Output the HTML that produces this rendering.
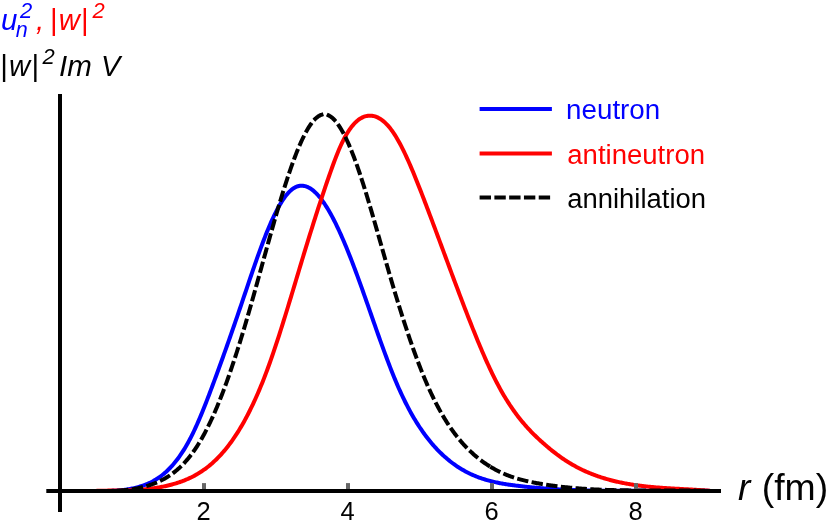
<!DOCTYPE html>
<html><head><meta charset="utf-8"><title>plot</title>
<style>html,body{margin:0;padding:0;background:#fff;}svg{display:block;}text{font-family:"Liberation Sans",sans-serif;}</style>
</head><body>
<svg width="830" height="532" viewBox="0 0 830 532">
<rect width="830" height="532" fill="#fff"/>
<g fill="none" stroke-width="4" stroke-linejoin="round" stroke-linecap="square">
<path d="M60.0 491.00 L61.0 491.00 L62.0 491.00 L63.0 491.00 L64.0 491.00 L65.0 491.00 L66.0 491.00 L67.0 491.00 L68.0 491.00 L69.0 491.00 L70.0 491.00 L71.0 491.00 L72.0 491.00 L73.0 491.00 L74.0 491.00 L75.0 491.00 L76.0 491.00 L77.0 491.00 L78.0 491.00 L79.0 491.00 L80.0 491.00 L81.0 491.00 L82.0 491.00 L83.0 491.00 L84.0 491.00 L85.0 491.00 L86.0 491.00 L87.0 491.00 L88.0 491.00 L89.0 491.00 L90.0 491.00 L91.0 490.99 L92.0 490.99 L93.0 490.99 L94.0 490.98 L95.0 490.98 L96.0 490.98 L97.0 490.98 L98.0 490.98 L99.0 490.98 L100.0 490.98 L101.0 490.98 L102.0 490.98 L103.0 490.98 L104.0 490.98 L105.0 490.98 L106.0 490.97 L107.0 490.96 L108.0 490.95 L109.0 490.93 L110.0 490.91 L111.0 490.88 L112.0 490.85 L113.0 490.81 L114.0 490.76 L115.0 490.70 L116.0 490.64 L117.0 490.57 L118.0 490.50 L119.0 490.42 L120.0 490.33 L121.0 490.23 L122.0 490.13 L123.0 490.02 L124.0 489.90 L125.0 489.77 L126.0 489.63 L127.0 489.48 L128.0 489.32 L129.0 489.15 L130.0 488.97 L131.0 488.78 L132.0 488.58 L133.0 488.37 L134.0 488.14 L135.0 487.91 L136.0 487.66 L137.0 487.40 L138.0 487.13 L139.0 486.84 L140.0 486.54 L141.0 486.23 L142.0 485.90 L143.0 485.56 L144.0 485.21 L145.0 484.83 L146.0 484.44 L147.0 484.03 L148.0 483.61 L149.0 483.16 L150.0 482.69 L151.0 482.21 L152.0 481.70 L153.0 481.17 L154.0 480.61 L155.0 480.03 L156.0 479.43 L157.0 478.80 L158.0 478.15 L159.0 477.47 L160.0 476.76 L161.0 476.02 L162.0 475.26 L163.0 474.46 L164.0 473.64 L165.0 472.78 L166.0 471.89 L167.0 470.97 L168.0 470.01 L169.0 469.02 L170.0 468.00 L171.0 466.94 L172.0 465.84 L173.0 464.71 L174.0 463.54 L175.0 462.33 L176.0 461.08 L177.0 459.79 L178.0 458.45 L179.0 457.08 L180.0 455.67 L181.0 454.21 L182.0 452.71 L183.0 451.16 L184.0 449.57 L185.0 447.93 L186.0 446.25 L187.0 444.51 L188.0 442.73 L189.0 440.90 L190.0 439.02 L191.0 437.09 L192.0 435.11 L193.0 433.08 L194.0 430.99 L195.0 428.86 L196.0 426.67 L197.0 424.45 L198.0 422.17 L199.0 419.86 L200.0 417.51 L201.0 415.12 L202.0 412.69 L203.0 410.24 L204.0 407.75 L205.0 405.23 L206.0 402.69 L207.0 400.12 L208.0 397.53 L209.0 394.92 L210.0 392.29 L211.0 389.64 L212.0 386.98 L213.0 384.31 L214.0 381.63 L215.0 378.93 L216.0 376.23 L217.0 373.51 L218.0 370.78 L219.0 368.04 L220.0 365.29 L221.0 362.53 L222.0 359.76 L223.0 356.98 L224.0 354.19 L225.0 351.38 L226.0 348.57 L227.0 345.75 L228.0 342.92 L229.0 340.08 L230.0 337.23 L231.0 334.37 L232.0 331.50 L233.0 328.63 L234.0 325.74 L235.0 322.85 L236.0 319.95 L237.0 317.04 L238.0 314.12 L239.0 311.20 L240.0 308.27 L241.0 305.33 L242.0 302.38 L243.0 299.43 L244.0 296.47 L245.0 293.50 L246.0 290.54 L247.0 287.57 L248.0 284.61 L249.0 281.65 L250.0 278.70 L251.0 275.76 L252.0 272.84 L253.0 269.92 L254.0 267.03 L255.0 264.15 L256.0 261.29 L257.0 258.45 L258.0 255.64 L259.0 252.86 L260.0 250.11 L261.0 247.39 L262.0 244.70 L263.0 242.05 L264.0 239.44 L265.0 236.86 L266.0 234.34 L267.0 231.85 L268.0 229.42 L269.0 227.03 L270.0 224.70 L271.0 222.42 L272.0 220.19 L273.0 218.02 L274.0 215.91 L275.0 213.85 L276.0 211.86 L277.0 209.93 L278.0 208.06 L279.0 206.26 L280.0 204.52 L281.0 202.85 L282.0 201.25 L283.0 199.72 L284.0 198.26 L285.0 196.88 L286.0 195.57 L287.0 194.34 L288.0 193.19 L289.0 192.11 L290.0 191.12 L291.0 190.21 L292.0 189.38 L293.0 188.64 L294.0 187.99 L295.0 187.42 L296.0 186.93 L297.0 186.52 L298.0 186.20 L299.0 185.95 L300.0 185.79 L301.0 185.70 L302.0 185.69 L303.0 185.76 L304.0 185.90 L305.0 186.12 L306.0 186.41 L307.0 186.77 L308.0 187.20 L309.0 187.71 L310.0 188.28 L311.0 188.92 L312.0 189.63 L313.0 190.40 L314.0 191.24 L315.0 192.15 L316.0 193.11 L317.0 194.14 L318.0 195.24 L319.0 196.39 L320.0 197.60 L321.0 198.87 L322.0 200.19 L323.0 201.57 L324.0 203.01 L325.0 204.50 L326.0 206.05 L327.0 207.65 L328.0 209.29 L329.0 210.99 L330.0 212.74 L331.0 214.54 L332.0 216.38 L333.0 218.27 L334.0 220.21 L335.0 222.18 L336.0 224.21 L337.0 226.27 L338.0 228.38 L339.0 230.52 L340.0 232.71 L341.0 234.93 L342.0 237.20 L343.0 239.49 L344.0 241.83 L345.0 244.19 L346.0 246.59 L347.0 249.02 L348.0 251.49 L349.0 253.98 L350.0 256.51 L351.0 259.06 L352.0 261.64 L353.0 264.24 L354.0 266.87 L355.0 269.53 L356.0 272.20 L357.0 274.90 L358.0 277.62 L359.0 280.37 L360.0 283.13 L361.0 285.90 L362.0 288.69 L363.0 291.50 L364.0 294.32 L365.0 297.15 L366.0 299.99 L367.0 302.84 L368.0 305.69 L369.0 308.55 L370.0 311.41 L371.0 314.27 L372.0 317.13 L373.0 319.99 L374.0 322.85 L375.0 325.70 L376.0 328.55 L377.0 331.39 L378.0 334.22 L379.0 337.03 L380.0 339.84 L381.0 342.63 L382.0 345.41 L383.0 348.17 L384.0 350.91 L385.0 353.63 L386.0 356.32 L387.0 359.00 L388.0 361.65 L389.0 364.27 L390.0 366.87 L391.0 369.43 L392.0 371.97 L393.0 374.47 L394.0 376.93 L395.0 379.37 L396.0 381.76 L397.0 384.11 L398.0 386.43 L399.0 388.70 L400.0 390.93 L401.0 393.13 L402.0 395.28 L403.0 397.39 L404.0 399.47 L405.0 401.50 L406.0 403.50 L407.0 405.46 L408.0 407.38 L409.0 409.27 L410.0 411.12 L411.0 412.94 L412.0 414.72 L413.0 416.46 L414.0 418.17 L415.0 419.85 L416.0 421.50 L417.0 423.11 L418.0 424.69 L419.0 426.24 L420.0 427.76 L421.0 429.24 L422.0 430.70 L423.0 432.13 L424.0 433.53 L425.0 434.90 L426.0 436.24 L427.0 437.55 L428.0 438.84 L429.0 440.10 L430.0 441.33 L431.0 442.54 L432.0 443.72 L433.0 444.88 L434.0 446.01 L435.0 447.12 L436.0 448.20 L437.0 449.26 L438.0 450.30 L439.0 451.32 L440.0 452.32 L441.0 453.29 L442.0 454.25 L443.0 455.18 L444.0 456.10 L445.0 456.99 L446.0 457.87 L447.0 458.73 L448.0 459.57 L449.0 460.38 L450.0 461.19 L451.0 461.97 L452.0 462.73 L453.0 463.48 L454.0 464.21 L455.0 464.92 L456.0 465.62 L457.0 466.30 L458.0 466.96 L459.0 467.61 L460.0 468.24 L461.0 468.85 L462.0 469.45 L463.0 470.03 L464.0 470.60 L465.0 471.16 L466.0 471.70 L467.0 472.22 L468.0 472.73 L469.0 473.23 L470.0 473.72 L471.0 474.19 L472.0 474.64 L473.0 475.09 L474.0 475.52 L475.0 475.94 L476.0 476.35 L477.0 476.75 L478.0 477.13 L479.0 477.51 L480.0 477.87 L481.0 478.22 L482.0 478.56 L483.0 478.89 L484.0 479.21 L485.0 479.52 L486.0 479.82 L487.0 480.12 L488.0 480.40 L489.0 480.67 L490.0 480.94 L491.0 481.19 L492.0 481.44 L493.0 481.68 L494.0 481.92 L495.0 482.14 L496.0 482.36 L497.0 482.57 L498.0 482.78 L499.0 482.98 L500.0 483.17 L501.0 483.36 L502.0 483.54 L503.0 483.71 L504.0 483.88 L505.0 484.05 L506.0 484.21 L507.0 484.37 L508.0 484.52 L509.0 484.67 L510.0 484.81 L511.0 484.95 L512.0 485.09 L513.0 485.22 L514.0 485.35 L515.0 485.48 L516.0 485.61 L517.0 485.74 L518.0 485.86 L519.0 485.98 L520.0 486.10 L521.0 486.22 L522.0 486.33 L523.0 486.44 L524.0 486.56 L525.0 486.67 L526.0 486.77 L527.0 486.88 L528.0 486.98 L529.0 487.09 L530.0 487.19 L531.0 487.29 L532.0 487.38 L533.0 487.48 L534.0 487.57 L535.0 487.66 L536.0 487.75 L537.0 487.84 L538.0 487.93 L539.0 488.01 L540.0 488.10 L541.0 488.18 L542.0 488.26 L543.0 488.34 L544.0 488.41 L545.0 488.49 L546.0 488.56 L547.0 488.64 L548.0 488.71 L549.0 488.78 L550.0 488.84 L551.0 488.91 L552.0 488.97 L553.0 489.04 L554.0 489.10 L555.0 489.16 L556.0 489.22 L557.0 489.28 L558.0 489.33 L559.0 489.39 L560.0 489.44 L561.0 489.50 L562.0 489.55 L563.0 489.60 L564.0 489.64 L565.0 489.69 L566.0 489.74 L567.0 489.78 L568.0 489.83 L569.0 489.87 L570.0 489.91 L571.0 489.95 L572.0 489.99 L573.0 490.03 L574.0 490.06 L575.0 490.10 L576.0 490.13 L577.0 490.17 L578.0 490.20 L579.0 490.23 L580.0 490.26 L581.0 490.29 L582.0 490.32 L583.0 490.34 L584.0 490.37 L585.0 490.39 L586.0 490.42 L587.0 490.44 L588.0 490.46 L589.0 490.48 L590.0 490.50 L591.0 490.52 L592.0 490.54 L593.0 490.56 L594.0 490.58 L595.0 490.59 L596.0 490.61 L597.0 490.62 L598.0 490.64 L599.0 490.65 L600.0 490.66 L601.0 490.67 L602.0 490.69 L603.0 490.70 L604.0 490.71 L605.0 490.71 L606.0 490.72 L607.0 490.73 L608.0 490.74 L609.0 490.74 L610.0 490.75 L611.0 490.75 L612.0 490.76 L613.0 490.76 L614.0 490.77 L615.0 490.77 L616.0 490.77 L617.0 490.77 L618.0 490.78 L619.0 490.78 L620.0 490.78 L621.0 490.78 L622.0 490.78 L623.0 490.78 L624.0 490.78 L625.0 490.78 L626.0 490.77 L627.0 490.77 L628.0 490.77 L629.0 490.77 L630.0 490.76 L631.0 490.76 L632.0 490.76 L633.0 490.75 L634.0 490.75 L635.0 490.75 L636.0 490.74 L637.0 490.74 L638.0 490.73 L639.0 490.73 L640.0 490.72 L641.0 490.72 L642.0 490.71 L643.0 490.71 L644.0 490.70 L645.0 490.70 L646.0 490.69 L647.0 490.69 L648.0 490.68 L649.0 490.67 L650.0 490.67 L651.0 490.66 L652.0 490.66 L653.0 490.65 L654.0 490.65 L655.0 490.64 L656.0 490.64 L657.0 490.63 L658.0 490.63 L659.0 490.62 L660.0 490.62 L661.0 490.61 L662.0 490.61 L663.0 490.61 L664.0 490.60 L665.0 490.60 L666.0 490.60 L667.0 490.59 L668.0 490.59 L669.0 490.59 L670.0 490.58 L671.0 490.58 L672.0 490.58 L673.0 490.58 L674.0 490.58 L675.0 490.58 L676.0 490.58 L677.0 490.58 L678.0 490.58 L679.0 490.58 L680.0 490.58 L681.0 490.59 L682.0 490.59 L683.0 490.59 L684.0 490.60 L685.0 490.60 L686.0 490.61 L687.0 490.61 L688.0 490.62 L689.0 490.62 L690.0 490.63 L691.0 490.64 L692.0 490.65 L693.0 490.66 L694.0 490.67 L695.0 490.68 L696.0 490.69 L697.0 490.70 L698.0 490.71 L699.0 490.73 L700.0 490.74 L701.0 490.76 L702.0 490.77 L703.0 490.79 L704.0 490.81 L705.0 490.83 L706.0 490.84 L707.0 490.86 L708.0 490.89" stroke="#0000ff"/>
<path d="M60.0 491.00 L61.0 491.00 L62.0 491.00 L63.0 491.00 L64.0 491.00 L65.0 491.00 L66.0 491.00 L67.0 491.00 L68.0 491.00 L69.0 491.00 L70.0 491.00 L71.0 491.00 L72.0 491.00 L73.0 491.00 L74.0 491.00 L75.0 491.00 L76.0 491.00 L77.0 491.00 L78.0 491.00 L79.0 491.00 L80.0 491.00 L81.0 491.00 L82.0 491.00 L83.0 491.00 L84.0 491.00 L85.0 491.00 L86.0 491.00 L87.0 491.00 L88.0 491.00 L89.0 491.00 L90.0 490.99 L91.0 490.98 L92.0 490.97 L93.0 490.95 L94.0 490.93 L95.0 490.91 L96.0 490.89 L97.0 490.87 L98.0 490.84 L99.0 490.82 L100.0 490.79 L101.0 490.76 L102.0 490.74 L103.0 490.71 L104.0 490.69 L105.0 490.67 L106.0 490.65 L107.0 490.63 L108.0 490.61 L109.0 490.59 L110.0 490.57 L111.0 490.56 L112.0 490.54 L113.0 490.53 L114.0 490.52 L115.0 490.51 L116.0 490.50 L117.0 490.49 L118.0 490.48 L119.0 490.48 L120.0 490.47 L121.0 490.46 L122.0 490.45 L123.0 490.43 L124.0 490.41 L125.0 490.39 L126.0 490.37 L127.0 490.35 L128.0 490.32 L129.0 490.29 L130.0 490.25 L131.0 490.21 L132.0 490.17 L133.0 490.13 L134.0 490.08 L135.0 490.03 L136.0 489.97 L137.0 489.92 L138.0 489.85 L139.0 489.78 L140.0 489.71 L141.0 489.64 L142.0 489.56 L143.0 489.47 L144.0 489.38 L145.0 489.29 L146.0 489.19 L147.0 489.08 L148.0 488.97 L149.0 488.86 L150.0 488.73 L151.0 488.61 L152.0 488.48 L153.0 488.34 L154.0 488.19 L155.0 488.04 L156.0 487.89 L157.0 487.73 L158.0 487.56 L159.0 487.38 L160.0 487.20 L161.0 487.01 L162.0 486.82 L163.0 486.61 L164.0 486.40 L165.0 486.19 L166.0 485.96 L167.0 485.73 L168.0 485.49 L169.0 485.25 L170.0 484.99 L171.0 484.73 L172.0 484.46 L173.0 484.18 L174.0 483.89 L175.0 483.60 L176.0 483.30 L177.0 482.98 L178.0 482.66 L179.0 482.33 L180.0 481.99 L181.0 481.63 L182.0 481.27 L183.0 480.89 L184.0 480.51 L185.0 480.11 L186.0 479.70 L187.0 479.27 L188.0 478.84 L189.0 478.38 L190.0 477.92 L191.0 477.44 L192.0 476.95 L193.0 476.44 L194.0 475.91 L195.0 475.37 L196.0 474.82 L197.0 474.24 L198.0 473.65 L199.0 473.04 L200.0 472.42 L201.0 471.78 L202.0 471.11 L203.0 470.43 L204.0 469.73 L205.0 469.02 L206.0 468.28 L207.0 467.52 L208.0 466.74 L209.0 465.93 L210.0 465.11 L211.0 464.27 L212.0 463.40 L213.0 462.51 L214.0 461.60 L215.0 460.66 L216.0 459.70 L217.0 458.72 L218.0 457.71 L219.0 456.68 L220.0 455.62 L221.0 454.53 L222.0 453.42 L223.0 452.29 L224.0 451.12 L225.0 449.93 L226.0 448.72 L227.0 447.47 L228.0 446.20 L229.0 444.89 L230.0 443.56 L231.0 442.20 L232.0 440.81 L233.0 439.39 L234.0 437.94 L235.0 436.46 L236.0 434.94 L237.0 433.40 L238.0 431.82 L239.0 430.21 L240.0 428.57 L241.0 426.90 L242.0 425.19 L243.0 423.45 L244.0 421.67 L245.0 419.86 L246.0 418.01 L247.0 416.13 L248.0 414.21 L249.0 412.26 L250.0 410.27 L251.0 408.24 L252.0 406.18 L253.0 404.07 L254.0 401.93 L255.0 399.76 L256.0 397.54 L257.0 395.28 L258.0 392.99 L259.0 390.65 L260.0 388.28 L261.0 385.86 L262.0 383.40 L263.0 380.90 L264.0 378.36 L265.0 375.78 L266.0 373.15 L267.0 370.48 L268.0 367.77 L269.0 365.02 L270.0 362.23 L271.0 359.39 L272.0 356.52 L273.0 353.62 L274.0 350.68 L275.0 347.71 L276.0 344.70 L277.0 341.67 L278.0 338.60 L279.0 335.51 L280.0 332.39 L281.0 329.25 L282.0 326.09 L283.0 322.91 L284.0 319.70 L285.0 316.48 L286.0 313.24 L287.0 309.98 L288.0 306.71 L289.0 303.43 L290.0 300.14 L291.0 296.84 L292.0 293.52 L293.0 290.21 L294.0 286.88 L295.0 283.56 L296.0 280.23 L297.0 276.90 L298.0 273.57 L299.0 270.24 L300.0 266.92 L301.0 263.60 L302.0 260.29 L303.0 256.99 L304.0 253.69 L305.0 250.41 L306.0 247.14 L307.0 243.88 L308.0 240.63 L309.0 237.40 L310.0 234.18 L311.0 230.97 L312.0 227.78 L313.0 224.61 L314.0 221.45 L315.0 218.30 L316.0 215.17 L317.0 212.06 L318.0 208.97 L319.0 205.90 L320.0 202.84 L321.0 199.80 L322.0 196.78 L323.0 193.78 L324.0 190.80 L325.0 187.84 L326.0 184.91 L327.0 181.99 L328.0 179.10 L329.0 176.23 L330.0 173.38 L331.0 170.56 L332.0 167.76 L333.0 165.00 L334.0 162.29 L335.0 159.62 L336.0 157.01 L337.0 154.46 L338.0 151.98 L339.0 149.58 L340.0 147.27 L341.0 145.04 L342.0 142.90 L343.0 140.86 L344.0 138.90 L345.0 137.03 L346.0 135.25 L347.0 133.55 L348.0 131.93 L349.0 130.40 L350.0 128.96 L351.0 127.59 L352.0 126.30 L353.0 125.10 L354.0 123.97 L355.0 122.92 L356.0 121.94 L357.0 121.04 L358.0 120.21 L359.0 119.46 L360.0 118.77 L361.0 118.16 L362.0 117.62 L363.0 117.14 L364.0 116.73 L365.0 116.39 L366.0 116.12 L367.0 115.91 L368.0 115.76 L369.0 115.67 L370.0 115.64 L371.0 115.68 L372.0 115.77 L373.0 115.93 L374.0 116.14 L375.0 116.42 L376.0 116.76 L377.0 117.16 L378.0 117.62 L379.0 118.15 L380.0 118.73 L381.0 119.38 L382.0 120.09 L383.0 120.87 L384.0 121.71 L385.0 122.61 L386.0 123.57 L387.0 124.60 L388.0 125.70 L389.0 126.85 L390.0 128.07 L391.0 129.36 L392.0 130.71 L393.0 132.13 L394.0 133.61 L395.0 135.16 L396.0 136.77 L397.0 138.44 L398.0 140.16 L399.0 141.95 L400.0 143.79 L401.0 145.68 L402.0 147.62 L403.0 149.61 L404.0 151.65 L405.0 153.74 L406.0 155.87 L407.0 158.04 L408.0 160.25 L409.0 162.50 L410.0 164.79 L411.0 167.11 L412.0 169.46 L413.0 171.84 L414.0 174.26 L415.0 176.70 L416.0 179.16 L417.0 181.65 L418.0 184.16 L419.0 186.69 L420.0 189.24 L421.0 191.81 L422.0 194.39 L423.0 196.98 L424.0 199.58 L425.0 202.19 L426.0 204.81 L427.0 207.44 L428.0 210.07 L429.0 212.71 L430.0 215.36 L431.0 218.01 L432.0 220.67 L433.0 223.33 L434.0 226.00 L435.0 228.67 L436.0 231.35 L437.0 234.03 L438.0 236.71 L439.0 239.40 L440.0 242.08 L441.0 244.77 L442.0 247.46 L443.0 250.15 L444.0 252.84 L445.0 255.53 L446.0 258.23 L447.0 260.92 L448.0 263.60 L449.0 266.29 L450.0 268.98 L451.0 271.66 L452.0 274.34 L453.0 277.01 L454.0 279.68 L455.0 282.35 L456.0 285.01 L457.0 287.67 L458.0 290.32 L459.0 292.97 L460.0 295.61 L461.0 298.24 L462.0 300.87 L463.0 303.49 L464.0 306.10 L465.0 308.70 L466.0 311.29 L467.0 313.87 L468.0 316.45 L469.0 319.01 L470.0 321.56 L471.0 324.09 L472.0 326.62 L473.0 329.13 L474.0 331.62 L475.0 334.10 L476.0 336.56 L477.0 339.01 L478.0 341.43 L479.0 343.84 L480.0 346.23 L481.0 348.59 L482.0 350.94 L483.0 353.26 L484.0 355.56 L485.0 357.84 L486.0 360.09 L487.0 362.32 L488.0 364.52 L489.0 366.70 L490.0 368.85 L491.0 370.97 L492.0 373.06 L493.0 375.12 L494.0 377.15 L495.0 379.14 L496.0 381.11 L497.0 383.04 L498.0 384.94 L499.0 386.81 L500.0 388.64 L501.0 390.44 L502.0 392.21 L503.0 393.94 L504.0 395.64 L505.0 397.31 L506.0 398.95 L507.0 400.56 L508.0 402.14 L509.0 403.69 L510.0 405.22 L511.0 406.71 L512.0 408.18 L513.0 409.62 L514.0 411.03 L515.0 412.42 L516.0 413.78 L517.0 415.12 L518.0 416.44 L519.0 417.72 L520.0 418.99 L521.0 420.23 L522.0 421.45 L523.0 422.65 L524.0 423.83 L525.0 424.99 L526.0 426.12 L527.0 427.24 L528.0 428.34 L529.0 429.41 L530.0 430.48 L531.0 431.52 L532.0 432.55 L533.0 433.56 L534.0 434.56 L535.0 435.54 L536.0 436.51 L537.0 437.47 L538.0 438.41 L539.0 439.35 L540.0 440.27 L541.0 441.18 L542.0 442.08 L543.0 442.98 L544.0 443.86 L545.0 444.74 L546.0 445.60 L547.0 446.46 L548.0 447.31 L549.0 448.14 L550.0 448.97 L551.0 449.79 L552.0 450.59 L553.0 451.39 L554.0 452.17 L555.0 452.95 L556.0 453.71 L557.0 454.47 L558.0 455.21 L559.0 455.94 L560.0 456.66 L561.0 457.37 L562.0 458.07 L563.0 458.76 L564.0 459.43 L565.0 460.10 L566.0 460.75 L567.0 461.39 L568.0 462.02 L569.0 462.64 L570.0 463.25 L571.0 463.84 L572.0 464.43 L573.0 465.00 L574.0 465.57 L575.0 466.12 L576.0 466.67 L577.0 467.20 L578.0 467.72 L579.0 468.24 L580.0 468.74 L581.0 469.24 L582.0 469.72 L583.0 470.20 L584.0 470.66 L585.0 471.12 L586.0 471.57 L587.0 472.01 L588.0 472.44 L589.0 472.86 L590.0 473.27 L591.0 473.68 L592.0 474.07 L593.0 474.46 L594.0 474.84 L595.0 475.21 L596.0 475.58 L597.0 475.94 L598.0 476.29 L599.0 476.63 L600.0 476.97 L601.0 477.29 L602.0 477.62 L603.0 477.93 L604.0 478.24 L605.0 478.54 L606.0 478.83 L607.0 479.12 L608.0 479.40 L609.0 479.68 L610.0 479.95 L611.0 480.22 L612.0 480.47 L613.0 480.73 L614.0 480.98 L615.0 481.22 L616.0 481.45 L617.0 481.68 L618.0 481.91 L619.0 482.13 L620.0 482.35 L621.0 482.56 L622.0 482.76 L623.0 482.96 L624.0 483.16 L625.0 483.35 L626.0 483.54 L627.0 483.72 L628.0 483.90 L629.0 484.07 L630.0 484.24 L631.0 484.40 L632.0 484.56 L633.0 484.72 L634.0 484.87 L635.0 485.02 L636.0 485.16 L637.0 485.30 L638.0 485.44 L639.0 485.57 L640.0 485.70 L641.0 485.83 L642.0 485.95 L643.0 486.07 L644.0 486.19 L645.0 486.30 L646.0 486.41 L647.0 486.52 L648.0 486.63 L649.0 486.73 L650.0 486.83 L651.0 486.92 L652.0 487.02 L653.0 487.11 L654.0 487.20 L655.0 487.28 L656.0 487.37 L657.0 487.45 L658.0 487.53 L659.0 487.61 L660.0 487.68 L661.0 487.76 L662.0 487.83 L663.0 487.90 L664.0 487.97 L665.0 488.04 L666.0 488.10 L667.0 488.17 L668.0 488.23 L669.0 488.30 L670.0 488.36 L671.0 488.42 L672.0 488.48 L673.0 488.53 L674.0 488.59 L675.0 488.65 L676.0 488.71 L677.0 488.76 L678.0 488.82 L679.0 488.87 L680.0 488.92 L681.0 488.98 L682.0 489.03 L683.0 489.09 L684.0 489.14 L685.0 489.19 L686.0 489.25 L687.0 489.30 L688.0 489.36 L689.0 489.41 L690.0 489.47 L691.0 489.52 L692.0 489.58 L693.0 489.64 L694.0 489.70 L695.0 489.76 L696.0 489.82 L697.0 489.88 L698.0 489.94 L699.0 490.00 L700.0 490.07 L701.0 490.13 L702.0 490.20 L703.0 490.27 L704.0 490.34 L705.0 490.41 L706.0 490.49 L707.0 490.56 L708.0 490.64" stroke="#ff0000"/>
<path d="M60.0 491.00 L61.0 491.00 L62.0 491.00 L63.0 491.00 L64.0 491.00 L65.0 491.00 L66.0 491.00 L67.0 491.00 L68.0 491.00 L69.0 491.00 L70.0 491.00 L71.0 491.00 L72.0 491.00 L73.0 491.00 L74.0 491.00 L75.0 491.00 L76.0 491.00 L77.0 491.00 L78.0 491.00 L79.0 491.00 L80.0 491.00 L81.0 491.00 L82.0 491.00 L83.0 491.00 L84.0 491.00 L85.0 491.00 L86.0 491.00 L87.0 491.00 L88.0 491.00 L89.0 491.00 L90.0 491.00 L91.0 490.99 L92.0 490.99 L93.0 490.99 L94.0 490.98 L95.0 490.98 L96.0 490.98 L97.0 490.98 L98.0 490.98 L99.0 490.98 L100.0 490.98 L101.0 490.98 L102.0 490.98 L103.0 490.98 L104.0 490.98 L105.0 490.98 L106.0 490.97 L107.0 490.97 L108.0 490.96 L109.0 490.94 L110.0 490.93 L111.0 490.91 L112.0 490.88 L113.0 490.85 L114.0 490.82 L115.0 490.78 L116.0 490.73 L117.0 490.68 L118.0 490.63 L119.0 490.57 L120.0 490.51 L121.0 490.44 L122.0 490.36 L123.0 490.28 L124.0 490.19 L125.0 490.10 L126.0 490.00 L127.0 489.89 L128.0 489.77 L129.0 489.65 L130.0 489.52 L131.0 489.38 L132.0 489.23 L133.0 489.08 L134.0 488.92 L135.0 488.74 L136.0 488.56 L137.0 488.37 L138.0 488.17 L139.0 487.97 L140.0 487.75 L141.0 487.52 L142.0 487.28 L143.0 487.03 L144.0 486.78 L145.0 486.51 L146.0 486.23 L147.0 485.93 L148.0 485.63 L149.0 485.32 L150.0 484.99 L151.0 484.66 L152.0 484.31 L153.0 483.94 L154.0 483.57 L155.0 483.18 L156.0 482.78 L157.0 482.36 L158.0 481.93 L159.0 481.48 L160.0 481.02 L161.0 480.54 L162.0 480.04 L163.0 479.52 L164.0 478.98 L165.0 478.43 L166.0 477.85 L167.0 477.25 L168.0 476.63 L169.0 475.99 L170.0 475.32 L171.0 474.63 L172.0 473.92 L173.0 473.18 L174.0 472.42 L175.0 471.63 L176.0 470.81 L177.0 469.97 L178.0 469.10 L179.0 468.20 L180.0 467.26 L181.0 466.30 L182.0 465.31 L183.0 464.29 L184.0 463.24 L185.0 462.15 L186.0 461.03 L187.0 459.87 L188.0 458.69 L189.0 457.46 L190.0 456.20 L191.0 454.90 L192.0 453.57 L193.0 452.20 L194.0 450.79 L195.0 449.34 L196.0 447.85 L197.0 446.32 L198.0 444.75 L199.0 443.14 L200.0 441.49 L201.0 439.79 L202.0 438.05 L203.0 436.27 L204.0 434.45 L205.0 432.58 L206.0 430.68 L207.0 428.73 L208.0 426.74 L209.0 424.70 L210.0 422.63 L211.0 420.51 L212.0 418.35 L213.0 416.15 L214.0 413.91 L215.0 411.63 L216.0 409.30 L217.0 406.94 L218.0 404.53 L219.0 402.08 L220.0 399.59 L221.0 397.06 L222.0 394.49 L223.0 391.89 L224.0 389.24 L225.0 386.55 L226.0 383.83 L227.0 381.07 L228.0 378.27 L229.0 375.43 L230.0 372.56 L231.0 369.65 L232.0 366.71 L233.0 363.73 L234.0 360.72 L235.0 357.68 L236.0 354.60 L237.0 351.49 L238.0 348.34 L239.0 345.17 L240.0 341.96 L241.0 338.72 L242.0 335.45 L243.0 332.15 L244.0 328.82 L245.0 325.46 L246.0 322.07 L247.0 318.65 L248.0 315.21 L249.0 311.75 L250.0 308.26 L251.0 304.75 L252.0 301.23 L253.0 297.69 L254.0 294.13 L255.0 290.56 L256.0 286.97 L257.0 283.38 L258.0 279.78 L259.0 276.17 L260.0 272.56 L261.0 268.94 L262.0 265.32 L263.0 261.70 L264.0 258.09 L265.0 254.48 L266.0 250.87 L267.0 247.27 L268.0 243.68 L269.0 240.10 L270.0 236.53 L271.0 232.98 L272.0 229.44 L273.0 225.92 L274.0 222.41 L275.0 218.93 L276.0 215.48 L277.0 212.04 L278.0 208.64 L279.0 205.26 L280.0 201.91 L281.0 198.60 L282.0 195.32 L283.0 192.08 L284.0 188.88 L285.0 185.71 L286.0 182.59 L287.0 179.51 L288.0 176.48 L289.0 173.50 L290.0 170.57 L291.0 167.69 L292.0 164.86 L293.0 162.09 L294.0 159.37 L295.0 156.72 L296.0 154.13 L297.0 151.60 L298.0 149.13 L299.0 146.74 L300.0 144.41 L301.0 142.15 L302.0 139.97 L303.0 137.86 L304.0 135.83 L305.0 133.88 L306.0 132.01 L307.0 130.22 L308.0 128.52 L309.0 126.90 L310.0 125.37 L311.0 123.93 L312.0 122.58 L313.0 121.33 L314.0 120.18 L315.0 119.12 L316.0 118.16 L317.0 117.30 L318.0 116.55 L319.0 115.91 L320.0 115.37 L321.0 114.94 L322.0 114.62 L323.0 114.42 L324.0 114.33 L325.0 114.35 L326.0 114.49 L327.0 114.74 L328.0 115.10 L329.0 115.57 L330.0 116.14 L331.0 116.82 L332.0 117.60 L333.0 118.48 L334.0 119.47 L335.0 120.54 L336.0 121.72 L337.0 122.99 L338.0 124.35 L339.0 125.80 L340.0 127.34 L341.0 128.97 L342.0 130.69 L343.0 132.48 L344.0 134.36 L345.0 136.32 L346.0 138.36 L347.0 140.48 L348.0 142.67 L349.0 144.93 L350.0 147.27 L351.0 149.68 L352.0 152.15 L353.0 154.69 L354.0 157.30 L355.0 159.97 L356.0 162.70 L357.0 165.49 L358.0 168.34 L359.0 171.24 L360.0 174.20 L361.0 177.21 L362.0 180.28 L363.0 183.39 L364.0 186.54 L365.0 189.74 L366.0 192.97 L367.0 196.25 L368.0 199.55 L369.0 202.89 L370.0 206.26 L371.0 209.65 L372.0 213.07 L373.0 216.51 L374.0 219.96 L375.0 223.43 L376.0 226.92 L377.0 230.41 L378.0 233.92 L379.0 237.42 L380.0 240.94 L381.0 244.45 L382.0 247.97 L383.0 251.48 L384.0 254.98 L385.0 258.48 L386.0 261.98 L387.0 265.46 L388.0 268.92 L389.0 272.38 L390.0 275.81 L391.0 279.23 L392.0 282.62 L393.0 286.00 L394.0 289.35 L395.0 292.68 L396.0 295.99 L397.0 299.27 L398.0 302.53 L399.0 305.77 L400.0 308.98 L401.0 312.16 L402.0 315.32 L403.0 318.45 L404.0 321.56 L405.0 324.63 L406.0 327.68 L407.0 330.70 L408.0 333.69 L409.0 336.65 L410.0 339.58 L411.0 342.48 L412.0 345.34 L413.0 348.18 L414.0 350.98 L415.0 353.74 L416.0 356.48 L417.0 359.18 L418.0 361.84 L419.0 364.47 L420.0 367.06 L421.0 369.61 L422.0 372.13 L423.0 374.61 L424.0 377.05 L425.0 379.45 L426.0 381.81 L427.0 384.14 L428.0 386.42 L429.0 388.66 L430.0 390.86 L431.0 393.01 L432.0 395.13 L433.0 397.21 L434.0 399.25 L435.0 401.25 L436.0 403.22 L437.0 405.15 L438.0 407.04 L439.0 408.89 L440.0 410.71 L441.0 412.49 L442.0 414.23 L443.0 415.95 L444.0 417.62 L445.0 419.27 L446.0 420.88 L447.0 422.46 L448.0 424.01 L449.0 425.52 L450.0 427.01 L451.0 428.46 L452.0 429.89 L453.0 431.28 L454.0 432.65 L455.0 433.99 L456.0 435.30 L457.0 436.58 L458.0 437.83 L459.0 439.06 L460.0 440.27 L461.0 441.44 L462.0 442.59 L463.0 443.72 L464.0 444.82 L465.0 445.90 L466.0 446.96 L467.0 448.00 L468.0 449.01 L469.0 450.00 L470.0 450.97 L471.0 451.92 L472.0 452.84 L473.0 453.75 L474.0 454.64 L475.0 455.52 L476.0 456.37 L477.0 457.20 L478.0 458.02 L479.0 458.82 L480.0 459.60 L481.0 460.37 L482.0 461.12 L483.0 461.85 L484.0 462.56 L485.0 463.26 L486.0 463.94 L487.0 464.61 L488.0 465.26 L489.0 465.90 L490.0 466.52 L491.0 467.13 L492.0 467.72" stroke="#000" stroke-dasharray="7.39 7.39"/>
<path d="M492.0 467.72 L493.0 468.30 L494.0 468.86 L495.0 469.41 L496.0 469.95 L497.0 470.47 L498.0 470.98 L499.0 471.48 L500.0 471.96 L501.0 472.43 L502.0 472.89 L503.0 473.34 L504.0 473.78 L505.0 474.20 L506.0 474.62 L507.0 475.02 L508.0 475.41 L509.0 475.79 L510.0 476.16 L511.0 476.52 L512.0 476.88 L513.0 477.22 L514.0 477.55 L515.0 477.87 L516.0 478.19 L517.0 478.49 L518.0 478.79 L519.0 479.08 L520.0 479.36 L521.0 479.63 L522.0 479.90 L523.0 480.16 L524.0 480.41 L525.0 480.66 L526.0 480.90 L527.0 481.13 L528.0 481.36 L529.0 481.58 L530.0 481.79 L531.0 482.00 L532.0 482.21 L533.0 482.41 L534.0 482.60 L535.0 482.79 L536.0 482.98 L537.0 483.16 L538.0 483.34 L539.0 483.52 L540.0 483.69 L541.0 483.86 L542.0 484.03 L543.0 484.19 L544.0 484.36 L545.0 484.51 L546.0 484.67 L547.0 484.82 L548.0 484.97 L549.0 485.12 L550.0 485.27 L551.0 485.41 L552.0 485.55 L553.0 485.69 L554.0 485.82 L555.0 485.96 L556.0 486.08 L557.0 486.21 L558.0 486.34 L559.0 486.46 L560.0 486.58 L561.0 486.70 L562.0 486.81 L563.0 486.92 L564.0 487.04 L565.0 487.14 L566.0 487.25 L567.0 487.35 L568.0 487.45 L569.0 487.55 L570.0 487.65 L571.0 487.75 L572.0 487.84 L573.0 487.93 L574.0 488.02 L575.0 488.10 L576.0 488.19 L577.0 488.27 L578.0 488.35 L579.0 488.43 L580.0 488.51 L581.0 488.58 L582.0 488.65 L583.0 488.72 L584.0 488.79 L585.0 488.86 L586.0 488.92 L587.0 488.99 L588.0 489.05 L589.0 489.11 L590.0 489.17 L591.0 489.23 L592.0 489.28 L593.0 489.33 L594.0 489.39 L595.0 489.44 L596.0 489.48 L597.0 489.53 L598.0 489.58 L599.0 489.62 L600.0 489.66 L601.0 489.71 L602.0 489.75 L603.0 489.78 L604.0 489.82 L605.0 489.86 L606.0 489.89 L607.0 489.92 L608.0 489.96 L609.0 489.99 L610.0 490.02 L611.0 490.04 L612.0 490.07 L613.0 490.10 L614.0 490.12 L615.0 490.15 L616.0 490.17 L617.0 490.19 L618.0 490.21 L619.0 490.23 L620.0 490.25 L621.0 490.27 L622.0 490.28 L623.0 490.30 L624.0 490.31 L625.0 490.33 L626.0 490.34 L627.0 490.35 L628.0 490.36 L629.0 490.38 L630.0 490.39 L631.0 490.39 L632.0 490.40 L633.0 490.41 L634.0 490.42 L635.0 490.43 L636.0 490.43 L637.0 490.44 L638.0 490.44 L639.0 490.45 L640.0 490.45 L641.0 490.45 L642.0 490.46 L643.0 490.46 L644.0 490.46 L645.0 490.46 L646.0 490.47 L647.0 490.47 L648.0 490.47 L649.0 490.47 L650.0 490.47 L651.0 490.47 L652.0 490.47 L653.0 490.47 L654.0 490.47 L655.0 490.47 L656.0 490.47 L657.0 490.47 L658.0 490.47 L659.0 490.47 L660.0 490.46 L661.0 490.46 L662.0 490.46 L663.0 490.46 L664.0 490.46 L665.0 490.46 L666.0 490.46 L667.0 490.46 L668.0 490.46 L669.0 490.46 L670.0 490.46 L671.0 490.46 L672.0 490.46 L673.0 490.46 L674.0 490.46 L675.0 490.47 L676.0 490.47 L677.0 490.47 L678.0 490.47 L679.0 490.48 L680.0 490.48 L681.0 490.49 L682.0 490.49 L683.0 490.50 L684.0 490.50 L685.0 490.51 L686.0 490.52 L687.0 490.52 L688.0 490.53 L689.0 490.54 L690.0 490.55 L691.0 490.56 L692.0 490.57 L693.0 490.59 L694.0 490.60 L695.0 490.61 L696.0 490.63 L697.0 490.64 L698.0 490.66 L699.0 490.68 L700.0 490.70 L701.0 490.72 L702.0 490.74 L703.0 490.76 L704.0 490.78 L705.0 490.80 L706.0 490.83 L707.0 490.85 L708.0 490.88" stroke="#000" stroke-dasharray="7.39 7.39"/>
</g>
<rect x="202" y="483.1" width="4" height="6" fill="#666"/><rect x="346" y="483.1" width="4" height="6" fill="#666"/><rect x="490" y="483.1" width="4" height="6" fill="#666"/><rect x="634" y="483.1" width="4" height="6" fill="#666"/>
<rect x="46.3" y="489" width="674.7" height="4" fill="#000"/>
<rect x="58" y="94" width="4" height="418" fill="#000"/>
<g style="will-change:opacity;isolation:isolate" opacity="0.996">
<text x="203.7" y="520.4" font-size="25.5" fill="#000" text-anchor="middle">2</text><text x="347.7" y="520.4" font-size="25.5" fill="#000" text-anchor="middle">4</text><text x="491.7" y="520.4" font-size="25.5" fill="#000" text-anchor="middle">6</text><text x="635.7" y="520.4" font-size="25.5" fill="#000" text-anchor="middle">8</text>
<text x="1.1" y="30.3" font-size="29.5" fill="#0000ff" font-style="italic" text-anchor="start">u</text><text x="20.1" y="18.2" font-size="22" fill="#0000ff" font-style="italic" text-anchor="start">2</text><text x="15.8" y="36.6" font-size="21.5" fill="#0000ff" font-style="italic" text-anchor="start">n</text><text x="36.0" y="30.3" font-size="29.5" fill="#ff0000" font-style="italic" text-anchor="start">,</text><text x="50.0" y="30.2" font-size="29.5" fill="#ff0000" text-anchor="start">|</text><text x="58.8" y="30.3" font-size="29.2" fill="#ff0000" font-style="italic" text-anchor="start">w</text><text x="81.0" y="30.2" font-size="29.5" fill="#ff0000" text-anchor="start">|</text><text x="92.5" y="18.2" font-size="22" fill="#ff0000" font-style="italic" text-anchor="start">2</text><text x="0.3" y="76.2" font-size="29.5" fill="#000" text-anchor="start">|</text><text x="9.0" y="76.2" font-size="29.2" fill="#000" font-style="italic" text-anchor="start">w</text><text x="31.5" y="76.2" font-size="29.5" fill="#000" text-anchor="start">|</text><text x="42.6" y="64.2" font-size="22" fill="#000" font-style="italic" text-anchor="start">2</text><text x="59.0" y="76.2" font-size="29.5" fill="#000" font-style="italic" text-anchor="start">I</text><text x="67.2" y="76.2" font-size="29.5" fill="#000" font-style="italic" text-anchor="start">m</text><text x="100.9" y="76.2" font-size="28.8" fill="#000" font-style="italic" text-anchor="start">V</text>
<line x1="481.6" y1="108.9" x2="549.9" y2="108.9" stroke="#0000ff" stroke-width="4" stroke-linecap="square"/><line x1="481.6" y1="153.4" x2="549.9" y2="153.4" stroke="#ff0000" stroke-width="4" stroke-linecap="square"/><line x1="481.6" y1="197.5" x2="549.9" y2="197.5" stroke="#000" stroke-width="4" stroke-linecap="square" stroke-dasharray="7.39 7.39"/><text x="566.1" y="119.1" font-size="27.76" fill="#0000ff" text-anchor="start">neutron</text><text x="567.3" y="163.8" font-size="27.53" fill="#ff0000" text-anchor="start">antineutron</text><text x="567.3" y="207.5" font-size="27.42" fill="#000" text-anchor="start">annihilation</text>
<text x="738.0" y="499.8" font-size="37" fill="#000" font-style="italic" text-anchor="start">r</text><text x="761.7" y="499.8" font-size="37.4" fill="#000" text-anchor="start">(fm)</text>
</g>
</svg>
</body></html>
